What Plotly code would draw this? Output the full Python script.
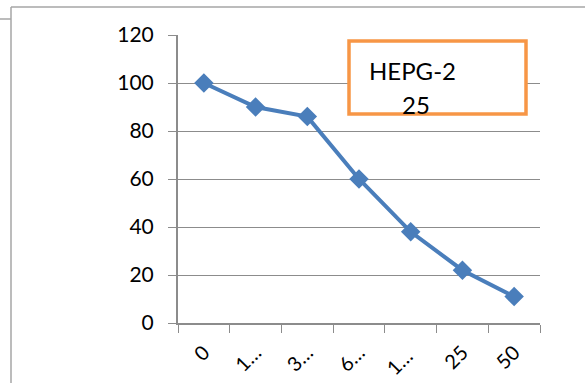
import plotly.graph_objects as go

# Concentrations (truncated labels as displayed) and viability (%)
categories = ["0", "1…", "3…", "6…", "1… ", "25", "50"]
viability = [100, 90, 86, 60, 38, 22, 11]
y_ticks = [0, 20, 40, 60, 80, 100, 120]

W, H = 585, 383
L, R, T, B = 178, 45, 35, 60
pw, ph = W - L - R, H - T - B

def px_x(x):
    return (x - L) / pw

def px_y(y):
    return (H - B - y) / ph

BLUE = "#4A7EBB"
GRID = "#8C8C8C"
FONT = "Lato"

fig = go.Figure()
fig.add_trace(go.Scatter(
    x=categories, y=viability, mode="lines+markers",
    line=dict(color=BLUE, width=4),
    marker=dict(symbol="diamond", size=15, color=BLUE),
    showlegend=False,
))

fig.update_layout(
    width=W, height=H,
    margin=dict(l=L, r=R, t=T, b=B),
    paper_bgcolor="white", plot_bgcolor="white",
    font=dict(family=FONT, size=21, color="black"),
    xaxis=dict(
        type="category", range=[-0.5, 6.5], automargin=False,
        tickson="boundaries", ticks="outside", ticklen=8, tickcolor=GRID,
        showline=True, linecolor=GRID, linewidth=2,
        showgrid=False, tickangle=-45, tickfont=dict(size=20),
        ticklabelstandoff=8,
    ),
    yaxis=dict(
        range=[0, 120], tickvals=y_ticks, automargin=False,
        ticks="outside", ticklen=8, tickcolor=GRID,
        showline=True, linecolor=GRID, linewidth=2,
        showgrid=True, gridcolor=GRID, gridwidth=1,
        zeroline=False, ticklabelstandoff=10,
    ),
    shapes=[
        # outer frame lines
        dict(type="line", xref="paper", yref="paper",
             x0=px_x(11), x1=px_x(585), y0=px_y(7), y1=px_y(7),
             line=dict(color="#A6A6A6", width=1.5)),
        dict(type="line", xref="paper", yref="paper",
             x0=px_x(11), x1=px_x(11), y0=px_y(7), y1=px_y(383),
             line=dict(color="#A6A6A6", width=1.5)),
        dict(type="line", xref="paper", yref="paper",
             x0=px_x(0), x1=px_x(11), y0=px_y(19), y1=px_y(19),
             line=dict(color="#A6A6A6", width=1.5)),
        # label box
        dict(type="rect", xref="paper", yref="paper",
             x0=px_x(349), x1=px_x(526), y0=px_y(41), y1=px_y(114),
             fillcolor="white", line=dict(color="#F79646", width=3.5),
             layer="above"),
    ],
    annotations=[
        dict(text="HEPG-2", xref="paper", yref="paper",
             x=px_x(412), y=px_y(70), xanchor="center", yanchor="middle",
             showarrow=False, font=dict(size=24, family=FONT)),
        dict(text="25", xref="paper", yref="paper",
             x=px_x(416), y=px_y(104), xanchor="center", yanchor="middle",
             showarrow=False, font=dict(size=24, family=FONT)),
    ],
)

fig.write_html("out.html")
